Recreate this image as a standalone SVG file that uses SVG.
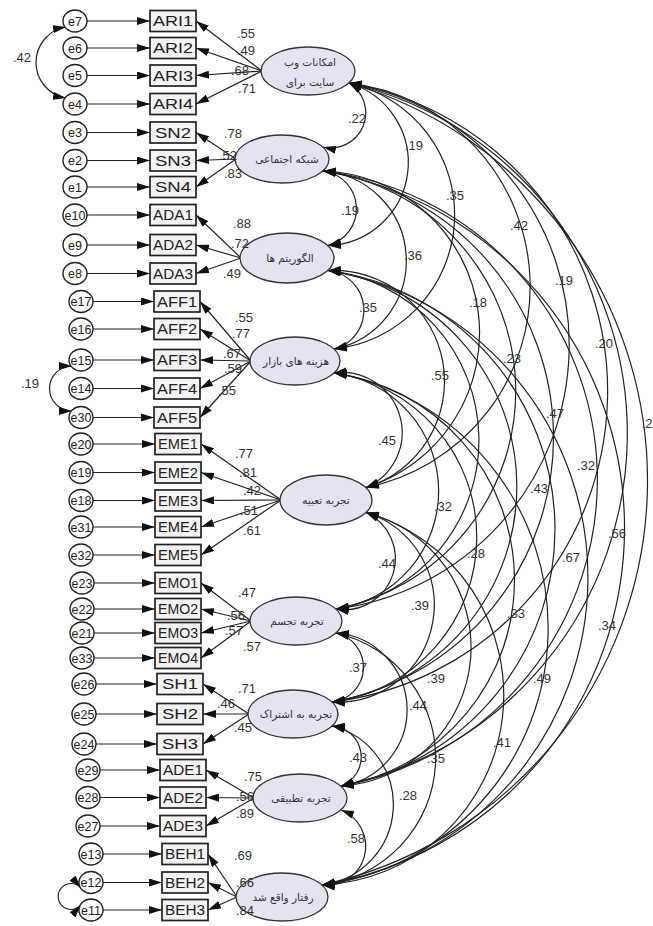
<svg xmlns="http://www.w3.org/2000/svg" width="653" height="926" viewBox="0 0 653 926">
<defs>
<marker id="ah" viewBox="0 0 13 8" refX="13" refY="4" markerWidth="13" markerHeight="8" markerUnits="userSpaceOnUse" orient="auto-start-reverse">
<path d="M0,0 L13,4 L0,8 z" fill="#111"/>
</marker>
<style>
.err ellipse{fill:#fff;stroke:#222;stroke-width:1.4}
.err text{font-family:"Liberation Sans",Arial,sans-serif;font-size:12.5px;text-anchor:middle;fill:#222}
.box rect{fill:#f3f3f3;stroke:#222;stroke-width:1.7}
.box text{font-family:"Liberation Sans",Arial,sans-serif;font-size:14px;text-anchor:middle;fill:#222}
.lat ellipse{fill:#e3e3f1;stroke:#333;stroke-width:1.3}
.lat text{font-family:"DejaVu Sans",sans-serif;font-size:10.5px;text-anchor:middle;fill:#333}
.conn line,.conn path{stroke:#222;stroke-width:1.2;fill:none}
.one{marker-end:url(#ah)}
.two{marker-start:url(#ah);marker-end:url(#ah)}
.lbl text{font-family:"Liberation Sans",Arial,sans-serif;font-size:13px;text-anchor:middle;fill:#333}
</style>
</defs>
<rect width="653" height="926" fill="#fff"/>

<g id="connectors" class="conn">
<!-- error to indicator -->
<line class="one" x1="87" y1="21" x2="150" y2="21"/>
<line class="one" x1="87" y1="48" x2="150" y2="48"/>
<line class="one" x1="87" y1="75.5" x2="150" y2="75.5"/>
<line class="one" x1="87" y1="104" x2="150" y2="104"/>
<line class="one" x1="87" y1="132.5" x2="150" y2="132.5"/>
<line class="one" x1="87" y1="160.5" x2="150" y2="160.5"/>
<line class="one" x1="87" y1="187" x2="150" y2="187"/>
<line class="one" x1="87" y1="215" x2="150" y2="215"/>
<line class="one" x1="87" y1="245" x2="150" y2="245"/>
<line class="one" x1="87" y1="273.5" x2="150" y2="273.5"/>
<line class="one" x1="93" y1="301.5" x2="154" y2="301.5"/>
<line class="one" x1="93" y1="329" x2="154" y2="329"/>
<line class="one" x1="93" y1="360" x2="154" y2="360"/>
<line class="one" x1="93" y1="388.5" x2="154" y2="388.5"/>
<line class="one" x1="93" y1="417.5" x2="154" y2="417.5"/>
<line class="one" x1="93" y1="444" x2="155" y2="444"/>
<line class="one" x1="93" y1="472.5" x2="155" y2="472.5"/>
<line class="one" x1="93" y1="500.5" x2="155" y2="500.5"/>
<line class="one" x1="93" y1="527" x2="155" y2="527"/>
<line class="one" x1="93" y1="555" x2="155" y2="555"/>
<line class="one" x1="94" y1="583" x2="155" y2="583"/>
<line class="one" x1="94" y1="609" x2="155" y2="609"/>
<line class="one" x1="94" y1="633" x2="155" y2="633"/>
<line class="one" x1="94" y1="658" x2="155" y2="658"/>
<line class="one" x1="96" y1="684" x2="157" y2="684"/>
<line class="one" x1="96" y1="714" x2="157" y2="714"/>
<line class="one" x1="96" y1="744" x2="157" y2="744"/>
<line class="one" x1="100" y1="770" x2="160" y2="770"/>
<line class="one" x1="100" y1="797.5" x2="160" y2="797.5"/>
<line class="one" x1="100" y1="826" x2="160" y2="826"/>
<line class="one" x1="103" y1="854" x2="162" y2="854"/>
<line class="one" x1="103" y1="882.5" x2="162" y2="882.5"/>
<line class="one" x1="103" y1="910" x2="162" y2="910"/>
<!-- loadings -->
<line class="one" x1="262" y1="71" x2="196" y2="21"/>
<line class="one" x1="262" y1="71" x2="196" y2="48"/>
<line class="one" x1="262" y1="71" x2="196" y2="75.5"/>
<line class="one" x1="262" y1="71" x2="196" y2="104"/>
<line class="one" x1="236" y1="159" x2="196" y2="132.5"/>
<line class="one" x1="236" y1="159" x2="196" y2="160.5"/>
<line class="one" x1="236" y1="159" x2="196" y2="187"/>
<line class="one" x1="241" y1="258" x2="196" y2="215"/>
<line class="one" x1="241" y1="258" x2="196" y2="245"/>
<line class="one" x1="241" y1="258" x2="196" y2="273.5"/>
<line class="one" x1="251" y1="361" x2="200" y2="301.5"/>
<line class="one" x1="251" y1="361" x2="200" y2="329"/>
<line class="one" x1="251" y1="361" x2="200" y2="360"/>
<line class="one" x1="251" y1="361" x2="200" y2="388.5"/>
<line class="one" x1="251" y1="361" x2="200" y2="417.5"/>
<line class="one" x1="281" y1="500" x2="201" y2="444"/>
<line class="one" x1="281" y1="500" x2="201" y2="472.5"/>
<line class="one" x1="281" y1="500" x2="201" y2="500.5"/>
<line class="one" x1="281" y1="500" x2="201" y2="527"/>
<line class="one" x1="281" y1="500" x2="201" y2="555"/>
<line class="one" x1="251" y1="621" x2="201" y2="583"/>
<line class="one" x1="251" y1="621" x2="201" y2="609"/>
<line class="one" x1="251" y1="621" x2="201" y2="633"/>
<line class="one" x1="251" y1="621" x2="201" y2="658"/>
<line class="one" x1="249" y1="714" x2="203" y2="684"/>
<line class="one" x1="249" y1="714" x2="203" y2="714"/>
<line class="one" x1="249" y1="714" x2="203" y2="744"/>
<line class="one" x1="254" y1="798" x2="206" y2="770"/>
<line class="one" x1="254" y1="798" x2="206" y2="797.5"/>
<line class="one" x1="254" y1="798" x2="206" y2="826"/>
<line class="one" x1="237" y1="897" x2="208" y2="854"/>
<line class="one" x1="237" y1="897" x2="208" y2="882.5"/>
<line class="one" x1="237" y1="897" x2="208" y2="910"/>
<!-- error covariances -->
<path class="two" d="M66,27 A36,36 0 0 0 66,98"/>
<path class="two" d="M72,366 A22.5,22.5 0 0 0 72,411"/>
<path class="two" d="M81,888 A13,13 0 1 0 81,905"/>
<!-- factor covariances -->
<path class="two" d="M349,83 A35,35 0 0 1 323,147"/>
<path class="two" d="M349,83 A83,83 0 0 1 328,245.5"/>
<path class="two" d="M349,83 A135,135 0 0 1 334,349"/>
<path class="two" d="M349,83 A205,205 0 0 1 366,487.5"/>
<path class="two" d="M349,83 A266,266 0 0 1 336,609"/>
<path class="two" d="M349,83 A313,313 0 0 1 332,702"/>
<path class="two" d="M349,83 A360,360 0 0 1 341,786"/>
<path class="two" d="M349,83 A414,414 0 0 1 322,885"/>
<path class="two" d="M323,171 A38,38 0 0 1 328,245.5"/>
<path class="two" d="M323,171 A90,90 0 0 1 334,349"/>
<path class="two" d="M323,171 A162,162 0 0 1 366,487.5"/>
<path class="two" d="M323,171 A222,222 0 0 1 336,609"/>
<path class="two" d="M323,171 A269,269 0 0 1 332,702"/>
<path class="two" d="M323,171 A311,311 0 0 1 341,786"/>
<path class="two" d="M323,171 A362,362 0 0 1 322,885"/>
<path class="two" d="M328,270.5 A40,40 0 0 1 334,349"/>
<path class="two" d="M328,270.5 A111,111 0 0 1 366,487.5"/>
<path class="two" d="M328,270.5 A171,171 0 0 1 336,609"/>
<path class="two" d="M328,270.5 A218,218 0 0 1 332,702"/>
<path class="two" d="M328,270.5 A261,261 0 0 1 341,786"/>
<path class="two" d="M328,270.5 A311,311 0 0 1 322,885"/>
<path class="two" d="M334,373 A60,60 0 0 1 366,487.5"/>
<path class="two" d="M334,373 A119,119 0 0 1 336,609"/>
<path class="two" d="M334,373 A166,166 0 0 1 332,702"/>
<path class="two" d="M334,373 A209,209 0 0 1 341,786"/>
<path class="two" d="M334,373 A259,259 0 0 1 322,885"/>
<path class="two" d="M366,512.5 A51,51 0 0 1 336,609"/>
<path class="two" d="M366,512.5 A97,97 0 0 1 332,702"/>
<path class="two" d="M366,512.5 A139,139 0 0 1 341,786"/>
<path class="two" d="M366,512.5 A190,190 0 0 1 322,885"/>
<path class="two" d="M336,633 A35,35 0 0 1 332,702"/>
<path class="two" d="M336,633 A77,77 0 0 1 341,786"/>
<path class="two" d="M336,633 A128,128 0 0 1 322,885"/>
<path class="two" d="M332,726 A31,31 0 0 1 341,786"/>
<path class="two" d="M332,726 A81,81 0 0 1 322,885"/>
<path class="two" d="M341,810 A39,39 0 0 1 322,885"/>
</g>

<g id="errors" class="err">
<g id="e7"><ellipse cx="75" cy="21" rx="12" ry="11"/><text x="75" y="25.5">e7</text></g>
<g id="e6"><ellipse cx="75" cy="48" rx="12" ry="11"/><text x="75" y="52.5">e6</text></g>
<g id="e5"><ellipse cx="75" cy="75.5" rx="12" ry="11"/><text x="75" y="80">e5</text></g>
<g id="e4"><ellipse cx="75" cy="104" rx="12" ry="11"/><text x="75" y="108.5">e4</text></g>
<g id="e3"><ellipse cx="75" cy="132.5" rx="12" ry="11"/><text x="75" y="137">e3</text></g>
<g id="e2"><ellipse cx="75" cy="160.5" rx="12" ry="11"/><text x="75" y="165">e2</text></g>
<g id="e1"><ellipse cx="75" cy="187" rx="12" ry="11"/><text x="75" y="191.5">e1</text></g>
<g id="e10"><ellipse cx="75" cy="215" rx="12" ry="11"/><text x="75" y="219.5">e10</text></g>
<g id="e9"><ellipse cx="75" cy="245" rx="12" ry="11"/><text x="75" y="249.5">e9</text></g>
<g id="e8"><ellipse cx="75" cy="273.5" rx="12" ry="11"/><text x="75" y="278">e8</text></g>
<g id="e17"><ellipse cx="81" cy="301.5" rx="12" ry="11"/><text x="81" y="306">e17</text></g>
<g id="e16"><ellipse cx="81" cy="329" rx="12" ry="11"/><text x="81" y="333.5">e16</text></g>
<g id="e15"><ellipse cx="81" cy="360" rx="12" ry="11"/><text x="81" y="364.5">e15</text></g>
<g id="e14"><ellipse cx="81" cy="388.5" rx="12" ry="11"/><text x="81" y="393">e14</text></g>
<g id="e30"><ellipse cx="81" cy="417.5" rx="12" ry="11"/><text x="81" y="422">e30</text></g>
<g id="e20"><ellipse cx="81" cy="444" rx="12" ry="11"/><text x="81" y="448.5">e20</text></g>
<g id="e19"><ellipse cx="81" cy="472.5" rx="12" ry="11"/><text x="81" y="477">e19</text></g>
<g id="e18"><ellipse cx="81" cy="500.5" rx="12" ry="11"/><text x="81" y="505">e18</text></g>
<g id="e31"><ellipse cx="81" cy="527" rx="12" ry="11"/><text x="81" y="531.5">e31</text></g>
<g id="e32"><ellipse cx="81" cy="555" rx="12" ry="11"/><text x="81" y="559.5">e32</text></g>
<g id="e23"><ellipse cx="82" cy="583" rx="12" ry="11"/><text x="82" y="587.5">e23</text></g>
<g id="e22"><ellipse cx="82" cy="609" rx="12" ry="11"/><text x="82" y="613.5">e22</text></g>
<g id="e21"><ellipse cx="82" cy="633" rx="12" ry="11"/><text x="82" y="637.5">e21</text></g>
<g id="e33"><ellipse cx="82" cy="658" rx="12" ry="11"/><text x="82" y="662.5">e33</text></g>
<g id="e26"><ellipse cx="84" cy="684" rx="12" ry="11"/><text x="84" y="688.5">e26</text></g>
<g id="e25"><ellipse cx="84" cy="714" rx="12" ry="11"/><text x="84" y="718.5">e25</text></g>
<g id="e24"><ellipse cx="84" cy="744" rx="12" ry="11"/><text x="84" y="748.5">e24</text></g>
<g id="e29"><ellipse cx="88" cy="770" rx="12" ry="11"/><text x="88" y="774.5">e29</text></g>
<g id="e28"><ellipse cx="88" cy="797.5" rx="12" ry="11"/><text x="88" y="802">e28</text></g>
<g id="e27"><ellipse cx="88" cy="826" rx="12" ry="11"/><text x="88" y="830.5">e27</text></g>
<g id="e13"><ellipse cx="91" cy="854" rx="12" ry="11"/><text x="91" y="858.5">e13</text></g>
<g id="e12"><ellipse cx="91" cy="882.5" rx="12" ry="11"/><text x="91" y="887">e12</text></g>
<g id="e11"><ellipse cx="91" cy="910" rx="12" ry="11"/><text x="91" y="914.5">e11</text></g>
</g>

<g id="indicators" class="box">
<g id="ARI1"><rect x="150" y="10.5" width="46" height="21"/><text x="173" y="26" textLength="40" lengthAdjust="spacingAndGlyphs">ARI1</text></g>
<g id="ARI2"><rect x="150" y="37.5" width="46" height="21"/><text x="173" y="53" textLength="40" lengthAdjust="spacingAndGlyphs">ARI2</text></g>
<g id="ARI3"><rect x="150" y="65" width="46" height="21"/><text x="173" y="80.5" textLength="40" lengthAdjust="spacingAndGlyphs">ARI3</text></g>
<g id="ARI4"><rect x="150" y="93.5" width="46" height="21"/><text x="173" y="109" textLength="40" lengthAdjust="spacingAndGlyphs">ARI4</text></g>
<g id="SN2"><rect x="150" y="122" width="46" height="21"/><text x="173" y="137.5" textLength="36" lengthAdjust="spacingAndGlyphs">SN2</text></g>
<g id="SN3"><rect x="150" y="150" width="46" height="21"/><text x="173" y="165.5" textLength="36" lengthAdjust="spacingAndGlyphs">SN3</text></g>
<g id="SN4"><rect x="150" y="176.5" width="46" height="21"/><text x="173" y="192" textLength="36" lengthAdjust="spacingAndGlyphs">SN4</text></g>
<g id="ADA1"><rect x="150" y="204.5" width="46" height="21"/><text x="173" y="220" textLength="40" lengthAdjust="spacingAndGlyphs">ADA1</text></g>
<g id="ADA2"><rect x="150" y="234.5" width="46" height="21"/><text x="173" y="250" textLength="40" lengthAdjust="spacingAndGlyphs">ADA2</text></g>
<g id="ADA3"><rect x="150" y="263" width="46" height="21"/><text x="173" y="278.5" textLength="40" lengthAdjust="spacingAndGlyphs">ADA3</text></g>
<g id="AFF1"><rect x="154" y="291" width="46" height="21"/><text x="177" y="306.5" textLength="40" lengthAdjust="spacingAndGlyphs">AFF1</text></g>
<g id="AFF2"><rect x="154" y="318.5" width="46" height="21"/><text x="177" y="334" textLength="40" lengthAdjust="spacingAndGlyphs">AFF2</text></g>
<g id="AFF3"><rect x="154" y="349.5" width="46" height="21"/><text x="177" y="365" textLength="40" lengthAdjust="spacingAndGlyphs">AFF3</text></g>
<g id="AFF4"><rect x="154" y="378" width="46" height="21"/><text x="177" y="393.5" textLength="40" lengthAdjust="spacingAndGlyphs">AFF4</text></g>
<g id="AFF5"><rect x="154" y="407" width="46" height="21"/><text x="177" y="422.5" textLength="40" lengthAdjust="spacingAndGlyphs">AFF5</text></g>
<g id="EME1"><rect x="155" y="433.5" width="46" height="21"/><text x="178" y="449" textLength="40" lengthAdjust="spacingAndGlyphs">EME1</text></g>
<g id="EME2"><rect x="155" y="462" width="46" height="21"/><text x="178" y="477.5" textLength="40" lengthAdjust="spacingAndGlyphs">EME2</text></g>
<g id="EME3"><rect x="155" y="490" width="46" height="21"/><text x="178" y="505.5" textLength="40" lengthAdjust="spacingAndGlyphs">EME3</text></g>
<g id="EME4"><rect x="155" y="516.5" width="46" height="21"/><text x="178" y="532" textLength="40" lengthAdjust="spacingAndGlyphs">EME4</text></g>
<g id="EME5"><rect x="155" y="544.5" width="46" height="21"/><text x="178" y="560" textLength="40" lengthAdjust="spacingAndGlyphs">EME5</text></g>
<g id="EMO1"><rect x="155" y="572.5" width="46" height="21"/><text x="178" y="588" textLength="40" lengthAdjust="spacingAndGlyphs">EMO1</text></g>
<g id="EMO2"><rect x="155" y="598.5" width="46" height="21"/><text x="178" y="614" textLength="40" lengthAdjust="spacingAndGlyphs">EMO2</text></g>
<g id="EMO3"><rect x="155" y="622.5" width="46" height="21"/><text x="178" y="638" textLength="40" lengthAdjust="spacingAndGlyphs">EMO3</text></g>
<g id="EMO4"><rect x="155" y="647.5" width="46" height="21"/><text x="178" y="663" textLength="40" lengthAdjust="spacingAndGlyphs">EMO4</text></g>
<g id="SH1"><rect x="157" y="673.5" width="46" height="21"/><text x="180" y="689" textLength="36" lengthAdjust="spacingAndGlyphs">SH1</text></g>
<g id="SH2"><rect x="157" y="703.5" width="46" height="21"/><text x="180" y="719" textLength="36" lengthAdjust="spacingAndGlyphs">SH2</text></g>
<g id="SH3"><rect x="157" y="733.5" width="46" height="21"/><text x="180" y="749" textLength="36" lengthAdjust="spacingAndGlyphs">SH3</text></g>
<g id="ADE1"><rect x="160" y="759.5" width="46" height="21"/><text x="183" y="775" textLength="40" lengthAdjust="spacingAndGlyphs">ADE1</text></g>
<g id="ADE2"><rect x="160" y="787" width="46" height="21"/><text x="183" y="802.5" textLength="40" lengthAdjust="spacingAndGlyphs">ADE2</text></g>
<g id="ADE3"><rect x="160" y="815.5" width="46" height="21"/><text x="183" y="831" textLength="40" lengthAdjust="spacingAndGlyphs">ADE3</text></g>
<g id="BEH1"><rect x="162" y="843.5" width="46" height="21"/><text x="185" y="859" textLength="40" lengthAdjust="spacingAndGlyphs">BEH1</text></g>
<g id="BEH2"><rect x="162" y="872" width="46" height="21"/><text x="185" y="887.5" textLength="40" lengthAdjust="spacingAndGlyphs">BEH2</text></g>
<g id="BEH3"><rect x="162" y="899.5" width="46" height="21"/><text x="185" y="915" textLength="40" lengthAdjust="spacingAndGlyphs">BEH3</text></g>
</g>

<g id="latents" class="lat">
<g id="ARI"><ellipse cx="308" cy="71" rx="47" ry="24"/><text x="310" y="66" font-size="12">امکانات وب</text><text x="310" y="86" font-size="12">سایت برای</text></g>
<g id="SN"><ellipse cx="282" cy="159" rx="47" ry="24"/><text x="287" y="163">شبکه اجتماعی</text></g>
<g id="ADA"><ellipse cx="287" cy="258" rx="47" ry="25"/><text x="290" y="262">الگوریتم ها</text></g>
<g id="AFF"><ellipse cx="295" cy="361" rx="45" ry="24"/><text x="296" y="365">هزینه های بازار</text></g>
<g id="EME"><ellipse cx="326" cy="500" rx="46" ry="25"/><text x="326" y="504">تجربه تعبیه</text></g>
<g id="EMO"><ellipse cx="296" cy="621" rx="46" ry="24"/><text x="297" y="625">تجربه تجسم</text></g>
<g id="SH"><ellipse cx="293" cy="714" rx="45" ry="24"/><text x="296" y="718">تجربه به اشتراک</text></g>
<g id="ADE"><ellipse cx="300" cy="798" rx="47" ry="24"/><text x="301" y="802">تجربه تطبیقی</text></g>
<g id="BEH"><ellipse cx="282" cy="897" rx="46" ry="24"/><text x="283" y="901">رفتار واقع شد</text></g>
</g>

<g id="labels" class="lbl">
<text x="22" y="62">.42</text>
<text x="30" y="388">.19</text>
<text x="246" y="37.5">.55</text>
<text x="246" y="54.5">.49</text>
<text x="240" y="74.5">.68</text>
<text x="247" y="92.5">.71</text>
<text x="233" y="137.5">.78</text>
<text x="228" y="159.5">.52</text>
<text x="233" y="177.5">.83</text>
<text x="242" y="227.5">.88</text>
<text x="240" y="247.5">.72</text>
<text x="232" y="277.5">.49</text>
<text x="244" y="321.5">.55</text>
<text x="241" y="337.5">.77</text>
<text x="232" y="357.5">.67</text>
<text x="233" y="372.5">.59</text>
<text x="227" y="394.5">.55</text>
<text x="244" y="457.5">.77</text>
<text x="248" y="476.5">.81</text>
<text x="252" y="494.5">.42</text>
<text x="249" y="514.5">.51</text>
<text x="252" y="534.5">.61</text>
<text x="247" y="596.5">.47</text>
<text x="236" y="619.5">.56</text>
<text x="234" y="634.5">.57</text>
<text x="252" y="650.5">.57</text>
<text x="247" y="692.5">.71</text>
<text x="226" y="707.5">.46</text>
<text x="243" y="731.5">.45</text>
<text x="253" y="780.5">.75</text>
<text x="245" y="800.5">.56</text>
<text x="245" y="817.5">.89</text>
<text x="243" y="859.5">.69</text>
<text x="245" y="886.5">.66</text>
<text x="245" y="914.5">.84</text>
<text x="357" y="122.5">.22</text>
<text x="414" y="149.5">.19</text>
<text x="455" y="199.5">.35</text>
<text x="519" y="229.5">.42</text>
<text x="564" y="284.5">.19</text>
<text x="604" y="347.5">.20</text>
<text x="647" y="427.5">.2</text>
<text x="350" y="214.5">.19</text>
<text x="413" y="259.5">.36</text>
<text x="478" y="306.5">.18</text>
<text x="512" y="362.5">.23</text>
<text x="440" y="379.5">.55</text>
<text x="368" y="311.5">.35</text>
<text x="555" y="417.5">.47</text>
<text x="387" y="444.5">.45</text>
<text x="586" y="469.5">.32</text>
<text x="539" y="492.5">.43</text>
<text x="443" y="510.5">.32</text>
<text x="617" y="537.5">.56</text>
<text x="476" y="557.5">.28</text>
<text x="571" y="561.5">.67</text>
<text x="387" y="567.5">.44</text>
<text x="420" y="609.5">.39</text>
<text x="516" y="617.5">.33</text>
<text x="607" y="629.5">.34</text>
<text x="358" y="671.5">.37</text>
<text x="436" y="682.5">.39</text>
<text x="542" y="682.5">.49</text>
<text x="418" y="709.5">.44</text>
<text x="358" y="761.5">.43</text>
<text x="436" y="762.5">.35</text>
<text x="502" y="746.5">.41</text>
<text x="408" y="799.5">.28</text>
<text x="356" y="842.5">.58</text>
</g>
</svg>
